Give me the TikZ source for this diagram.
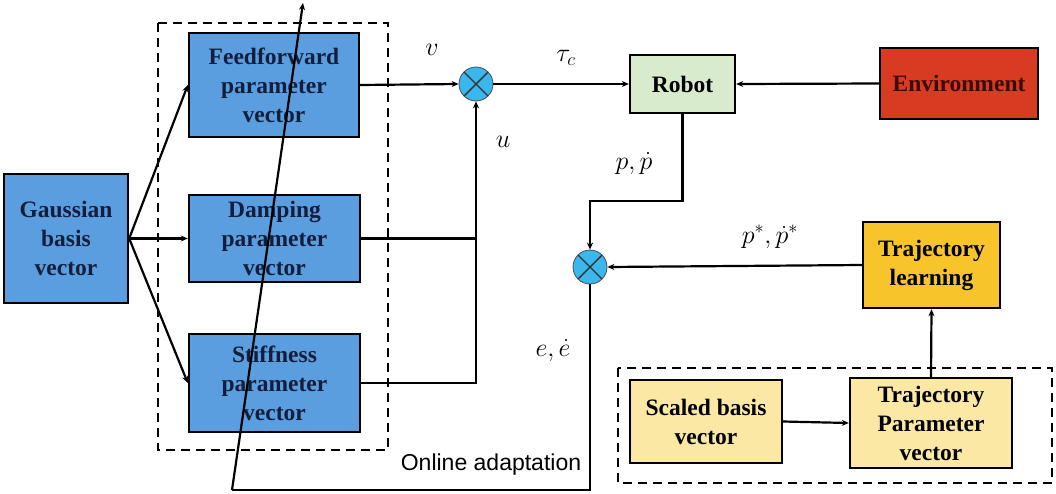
\RequirePackage{fix-cm}
\documentclass[tikz,border=0pt]{standalone}
\usepackage{fontspec}
\setmainfont{Liberation Serif}
\newfontfamily\oasans{Liberation Sans}
\usetikzlibrary{arrows.meta,calc}
\definecolor{boxblue}{RGB}{90,158,224}
\definecolor{navytext}{RGB}{18,30,60}
\definecolor{robotgreen}{RGB}{216,235,204}
\definecolor{envred}{RGB}{217,58,34}
\definecolor{envtext}{RGB}{60,10,5}
\definecolor{gold}{RGB}{248,196,44}
\definecolor{paleyellow}{RGB}{251,232,165}
\definecolor{sumcyan}{RGB}{58,183,236}
\begin{document}
\begin{tikzpicture}[x=1pt,y=-1pt,
  blk/.style={draw=black, line width=2.4pt, rectangle, align=center, inner sep=0pt,
     font=\fontsize{23.5}{29}\selectfont\bfseries},
  bluebk/.style={blk, fill=boxblue, text=navytext},
  sumnode/.style={circle, draw=black!70, line width=0.8pt, fill=sumcyan, minimum size=34pt, inner sep=0pt,
     path picture={\draw[line width=1.4pt, black!80]
        (path picture bounding box.north west) -- (path picture bounding box.south east)
        (path picture bounding box.north east) -- (path picture bounding box.south west);}},
  conn/.style={line width=2.2pt, -{Stealth[length=7pt,width=6pt]}},
  plain/.style={line width=2.2pt},
  grp/.style={draw=black, line width=2.2pt, dash pattern=on 9pt off 6pt},
  mlab/.style={font=\fontsize{26}{30}\selectfont, inner sep=0pt}
]
\useasboundingbox (0,0) rectangle (1056,493);

% groups
\draw[grp] (158,23) rectangle (388,450);
\draw[grp] (618,368) rectangle (1052,483);

% blocks
\node[bluebk, minimum width=124pt, minimum height=129pt] (gauss) at (66,238.5) {Gaussian\\basis\\vector};
\node[bluebk, minimum width=170pt, minimum height=104pt] (ff) at (274,85) {Feedforward\\parameter\\vector};
\node[bluebk, minimum width=171pt, minimum height=87pt] (damp) at (274.5,238.5) {Damping\\parameter\\vector};
\node[bluebk, minimum width=171pt, minimum height=98pt] (stiff) at (274.5,383) {Stiffness\\parameter\\vector};

\node[sumnode] (s1) at (476,84) {};
\node[sumnode] (s2) at (590,267) {};

\node[blk, fill=robotgreen, minimum width=105pt, minimum height=58pt] (robot) at (682.5,84) {Robot};
\node[blk, fill=envred, text=envtext, minimum width=158pt, minimum height=71pt] (env) at (959,83.5) {Environment};
\node[blk, fill=gold, minimum width=137pt, minimum height=86pt] (tl) at (931.5,265) {Trajectory\\learning};
\node[blk, fill=paleyellow, minimum width=152pt, minimum height=83pt] (sb) at (706,421.5) {Scaled basis\\vector};
\node[blk, fill=paleyellow, minimum width=162pt, minimum height=90pt] (tpv) at (931,423) {Trajectory\\Parameter\\vector};

% connectors
\draw[conn] (gauss.east) -- (ff.west);
\draw[conn] (gauss.east) -- (damp.west);
\draw[conn] (gauss.east) -- (stiff.west);
\draw[conn] (ff.east) -- (s1.west);
\draw[plain] (damp.east) -- (damp.east -| s1.south);
\draw[conn] (stiff.east) -| (s1.south);
\draw[conn] (s1.east) -- (robot.west);
\draw[conn] (env.west) -- (robot.east);
\coordinate (rb) at ($(robot.south)+(0,87)$);
\draw[conn] (robot.south) -- (rb) -| (s2.north);
\draw[conn] (tl.west) -- (s2.east);
\draw[conn] (tpv.north) -- (tl.south);
\draw[conn] (sb.east) -- (tpv.west);
\coordinate (oa1) at (590,490);
\coordinate (oa2) at (232,490);
\coordinate (oa3) at (303,3);
\draw[plain, line width=2.6pt] (s2.south) -- (oa1) -- (oa2);
\draw[conn] (oa2) -- (oa3);

% labels
\node[mlab] (lv) at (432,50) {$v$};
\node[mlab] (ltau) at (566,58) {$\tau_c$};
\node[mlab] (lu) at (503,142) {$u$};
\node[mlab] (lp) at (634,163) {$p,\dot p$};
\node[mlab] (lps) at (770,237) {$p^{*},\dot p^{*}$};
\node[mlab] (le) at (553,350) {$e,\dot e$};
\node[inner sep=0pt, font=\oasans\fontsize{23}{27}\selectfont] (loa) at (491,465) {Online adaptation};
\end{tikzpicture}
\end{document}
